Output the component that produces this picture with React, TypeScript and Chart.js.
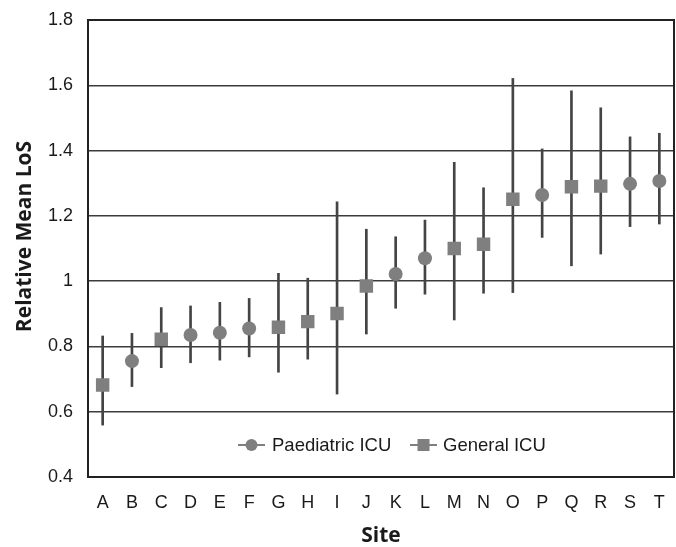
import React, { useEffect, useRef } from "react";
import { Chart, registerables } from "chart.js";

Chart.register(...registerables);

const sites = ["A", "B", "C", "D", "E", "F", "G", "H", "I", "J", "K", "L", "M", "N", "O", "P", "Q", "R", "S", "T"];
const paediatricICU = [null, 0.755, null, 0.835, 0.842, 0.855, null, null, null, null, 1.022, 1.07, null, null, null, 1.264, null, null, 1.298, 1.307];
const generalICU = [0.682, null, 0.822, null, null, null, 0.859, 0.876, 0.901, 0.985, null, null, 1.1, 1.113, 1.251, null, 1.289, 1.291, null, null];
const lowerCI = [0.559, 0.677, 0.735, 0.75, 0.758, 0.768, 0.721, 0.761, 0.654, 0.838, 0.917, 0.96, 0.881, 0.963, 0.965, 1.134, 1.047, 1.083, 1.167, 1.175];
const upperCI = [0.832, 0.84, 0.919, 0.924, 0.935, 0.947, 1.024, 1.009, 1.243, 1.159, 1.136, 1.187, 1.364, 1.286, 1.621, 1.405, 1.583, 1.531, 1.442, 1.453];
const yMin = 0.4;
const yMax = 1.8;
const yStep = 0.2;
const yTitle = "Relative Mean LoS";
const xTitle = "Site";

const markerColor = "#7f7f7f";
const lineColor = "#444444";
const textColor = "#1a1a1a";
const tickFont = { family: "'Liberation Sans', Arial, sans-serif", size: 18 };
const titleFont = { family: "'Open Sans', sans-serif", size: 21, weight: "bold" as const, lineHeight: 1 };

const framePlugin = {
  id: "frameAndLegend",
  afterDraw(chart: any) {
    const { ctx, chartArea } = chart;
    ctx.save();
    ctx.strokeStyle = "#222222";
    ctx.lineWidth = 2;
    ctx.strokeRect(chartArea.left, chartArea.top, chartArea.right - chartArea.left, chartArea.bottom - chartArea.top);

    // y axis title
    ctx.save();
    ctx.translate(25, (chartArea.top + chartArea.bottom) / 2 - 12);
    ctx.rotate(-Math.PI / 2);
    ctx.fillStyle = textColor;
    ctx.font = "bold 21px 'Open Sans', sans-serif";
    ctx.textAlign = "center";
    ctx.textBaseline = "middle";
    ctx.fillText(yTitle, 0, 0);
    ctx.restore();

    // legend inside plot
    const items = [
      { ds: chart.data.datasets[0], x0: chartArea.left + 150, style: "circle" },
      { ds: chart.data.datasets[1], x0: chartArea.left + 322, style: "rect" },
    ];
    const ly = chartArea.bottom - 32;
    items.forEach((it) => {
      ctx.strokeStyle = markerColor;
      ctx.lineWidth = 2;
      ctx.beginPath();
      ctx.moveTo(it.x0, ly);
      ctx.lineTo(it.x0 + 27, ly);
      ctx.stroke();
      ctx.fillStyle = markerColor;
      const cx = it.x0 + 13.5;
      if (it.style === "circle") {
        ctx.beginPath();
        ctx.arc(cx, ly, 6, 0, Math.PI * 2);
        ctx.fill();
      } else {
        ctx.fillRect(cx - 6, ly - 6, 12, 12);
      }
      ctx.fillStyle = textColor;
      ctx.font = "18.5px 'Liberation Sans', Arial, sans-serif";
      ctx.textBaseline = "middle";
      ctx.textAlign = "left";
      ctx.fillText(it.ds.label, it.x0 + (it.style === "circle" ? 34 : 33), ly + 1);
    });
    ctx.restore();
  },
};

export default function App() {
  const ref = useRef<HTMLCanvasElement | null>(null);
  useEffect(() => {
    if (!ref.current) return;
    const chart = new Chart(ref.current, {
      type: "line",
      data: {
        labels: sites,
        datasets: [
          {
            type: "line",
            label: "Paediatric ICU",
            data: paediatricICU,
            showLine: false,
            pointStyle: "circle",
            pointRadius: 7,
            pointBackgroundColor: markerColor,
            pointBorderWidth: 0,
            borderColor: markerColor,
            order: 0,
          },
          {
            type: "line",
            label: "General ICU",
            data: generalICU,
            showLine: false,
            pointStyle: "rect",
            pointRadius: 9.5,
            pointBackgroundColor: markerColor,
            pointBorderWidth: 0,
            borderColor: markerColor,
            order: 0,
          },
          {
            type: "bar",
            label: "95% CI",
            data: sites.map((_, i) => [lowerCI[i], upperCI[i]]) as any,
            backgroundColor: lineColor,
            borderWidth: 0,
            barThickness: 2,
            order: 1,
          },
        ],
      },
      options: {
        animation: false,
        responsive: true,
        maintainAspectRatio: false,
        layout: { autoPadding: false, padding: { top: 20, right: 2, left: 0, bottom: 0 } },
        plugins: { legend: { display: false }, tooltip: { enabled: false } },
        scales: {
          x: {
            type: "category",
            offset: true,
            grid: { display: true, drawOnChartArea: false, drawTicks: true, tickLength: 15, tickColor: "transparent", color: "transparent" },
            border: { display: false },
            ticks: { color: textColor, font: tickFont, padding: 0, maxRotation: 0 },
            title: { display: true, text: xTitle, color: textColor, font: titleFont, padding: { top: 0, bottom: 0 } },
            afterFit: (s: any) => {
              s.height = 70;
            },
          },
          y: {
            min: yMin,
            max: yMax,
            grid: { color: "#3c3c3c", lineWidth: 1.5, drawTicks: true, tickLength: 15, tickColor: "transparent" },
            border: { display: false },
            ticks: {
              stepSize: yStep,
              color: textColor,
              font: tickFont,
              padding: 0,
              callback: (v: any) => String(Number(Number(v).toFixed(1))),
            },
            afterFit: (s: any) => {
              s.width = 88;
            },
          },
        },
      },
      plugins: [framePlugin],
    });
    return () => chart.destroy();
  }, []);
  return (
    <div style={{ position: "absolute", left: 0, top: 0, width: 676, height: 547, background: "#fff" }}>
      <canvas ref={ref} />
    </div>
  );
}
